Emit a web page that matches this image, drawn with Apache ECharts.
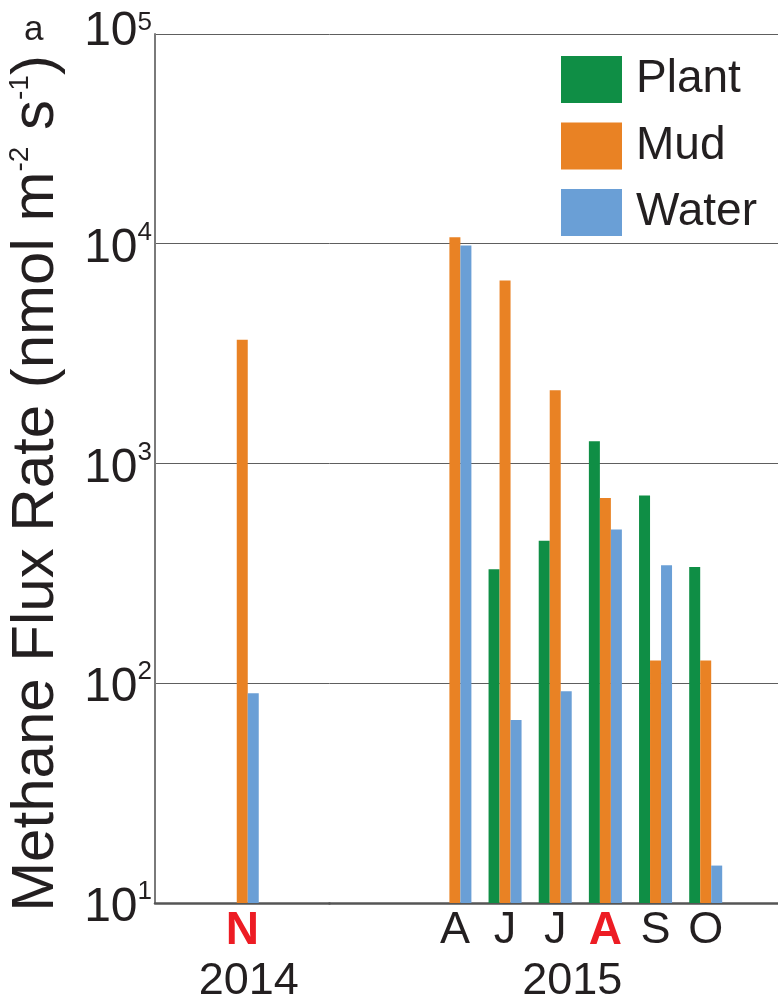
<!DOCTYPE html>
<html>
<head>
<meta charset="utf-8">
<script src="https://cdn.jsdelivr.net/npm/echarts@6/dist/echarts.min.js"></script>
<style>
  html, body { margin: 0; padding: 0; background: #ffffff; }
  #chart { width: 778px; height: 999px; }
</style>
</head>
<body>
<div id="chart"></div>
<script>
// ---- data ----
var seriesNames = ['Plant', 'Mud', 'Water'];
var months2014 = ['N'];
var highlight2014 = [true];
var plant2014 = [null];
var mud2014 = [3650];
var water2014 = [90];

var months2015 = ['A', 'J', 'J', 'A', 'S', 'O'];
var highlight2015 = [false, false, false, true, false, false];
var plant2015 = [null, 330, 445, 1260, 715, 338];
var mud2015 = [10700, 6800, 2150, 695, 127, 127];
var water2015 = [9800, 68, 92, 500, 344, 14.8];

var yearLabels = ['2014', '2015'];
var yTickExponents = [1, 2, 3, 4, 5];

// ---- style ----
var COLORS = ['#0F8E45', '#E98224', '#6A9FD6'];
var TXT = '#231F20';
var RED = '#ED1C24';
var FONT = '"Liberation Sans", Arial, Helvetica, sans-serif';

// padding of the 2015 axis with empty slots (layout only)
var lead = 2, trail = 1;
function pad(arr, fill) {
  var out = [];
  for (var i = 0; i < lead; i++) out.push(fill);
  out = out.concat(arr);
  for (var j = 0; j < trail; j++) out.push(fill);
  return out;
}
var cats2015 = pad(months2015, '');
var hl2015 = pad(highlight2015, false);

var yMin = Math.pow(10, yTickExponents[0]);
var yMax = Math.pow(10, 4.9535); // top frame of the plot, labelled with the last exponent

function yLabelFormatter(v) {
  var e = Math.round(Math.log10(v));
  var idx = yTickExponents.indexOf(e);
  if (idx < 0) return '';
  if (idx === yTickExponents.length - 1) return '{bt|10}{s|' + e + '}';
  return '{b|10}{s|' + e + '}';
}

function makeYAxis(gridIndex, showAxis) {
  return {
    type: 'log',
    logBase: 10,
    gridIndex: gridIndex,
    min: yMin,
    max: yMax,
    axisLine: { show: showAxis, lineStyle: { color: '#7a7a7a', width: 2 } },
    axisTick: { show: false },
    splitLine: { show: true, lineStyle: { color: '#5e5e5e', width: 1.2 } },
    axisLabel: {
      show: showAxis,
      margin: 3,
      formatter: yLabelFormatter,
      rich: {
        b: { fontSize: 48, color: TXT, fontFamily: FONT, lineHeight: 48, padding: [10, 0, 0, 0] },
        bt: { fontSize: 48, color: TXT, fontFamily: FONT, lineHeight: 48, padding: [0, 0, 4, 0] },
        s: { fontSize: 26, color: TXT, fontFamily: FONT, lineHeight: 26, verticalAlign: 'top' }
      }
    },
    name: showAxis ? '{m|Methane Flux Rate (nmol m}{sup|-2}{m| s}{sup|-1}{m|)}' : '',
    nameLocation: 'middle',
    nameRotate: 90,
    nameGap: 89,
    nameTextStyle: {
      padding: [0, 30, 0, 0],
      rich: {
        m: { fontSize: 60, color: TXT, fontFamily: FONT, lineHeight: 60 },
        sup: { fontSize: 28, color: TXT, fontFamily: FONT, lineHeight: 28, verticalAlign: 'top' }
      }
    }
  };
}

function makeXAxis(gridIndex, cats, hl, yearName, namePadLeft) {
  return {
    type: 'category',
    gridIndex: gridIndex,
    data: cats,
    axisLine: { show: true, lineStyle: { color: '#555555', width: 2.5 } },
    axisTick: { show: false },
    splitLine: { show: false },
    axisLabel: {
      interval: 0,
      margin: 5,
      formatter: function (v, i) {
        if (!v) return '';
        return hl[i] ? '{r|' + v + '}' : '{k|' + v + '}';
      },
      rich: {
        k: { fontSize: 45, color: TXT, fontFamily: FONT },
        r: { fontSize: 46, color: RED, fontFamily: FONT, fontWeight: 'bold' }
      }
    },
    name: yearName,
    nameLocation: 'middle',
    nameGap: 50,
    nameTextStyle: { fontSize: 45, color: TXT, fontFamily: FONT, padding: [0, 0, 0, namePadLeft] }
  };
}

var slotW = 50.16;
var g1Left = 329.5;
var g1Width = slotW * cats2015.length;

var data2014 = [plant2014, mud2014, water2014];
var data2015 = [pad(plant2015, null), pad(mud2015, null), pad(water2015, null)];

var series = [];
seriesNames.forEach(function (name, k) {
  series.push({
    name: name, type: 'bar', xAxisIndex: 0, yAxisIndex: 0,
    data: data2014[k], barWidth: 11, barGap: '0%',
    itemStyle: { color: COLORS[k] }
  });
});
seriesNames.forEach(function (name, k) {
  series.push({
    name: name, type: 'bar', xAxisIndex: 1, yAxisIndex: 1,
    data: data2015[k], barWidth: 11, barGap: '0%',
    itemStyle: { color: COLORS[k] }
  });
});

var chart = echarts.init(document.getElementById('chart'), null, { renderer: 'canvas' });
chart.setOption({
  animation: false,
  backgroundColor: '#ffffff',
  textStyle: { fontFamily: FONT },
  title: {
    text: 'a', left: 19, top: 8,
    textStyle: { fontSize: 35, fontWeight: 'normal', color: TXT, fontFamily: FONT }
  },
  legend: {
    data: seriesNames,
    orient: 'vertical',
    left: 556, top: 51,
    itemWidth: 61, itemHeight: 47, itemGap: 19.5,
    icon: 'rect',
    selectedMode: false,
    textStyle: { fontSize: 46, color: TXT, fontFamily: FONT, padding: [0, 0, 0, 9] }
  },
  grid: [
    { left: 155, top: 34, width: g1Left - 155, height: 869, containLabel: false, outerBoundsMode: 'none' },
    { left: g1Left, top: 34, width: g1Width, height: 869, containLabel: false, outerBoundsMode: 'none' }
  ],
  xAxis: [
    makeXAxis(0, months2014, highlight2014, yearLabels[0], 13),
    makeXAxis(1, cats2015, hl2015, yearLabels[1], 34)
  ],
  yAxis: [makeYAxis(0, true), makeYAxis(1, false)],
  series: series
});
</script>
</body>
</html>
